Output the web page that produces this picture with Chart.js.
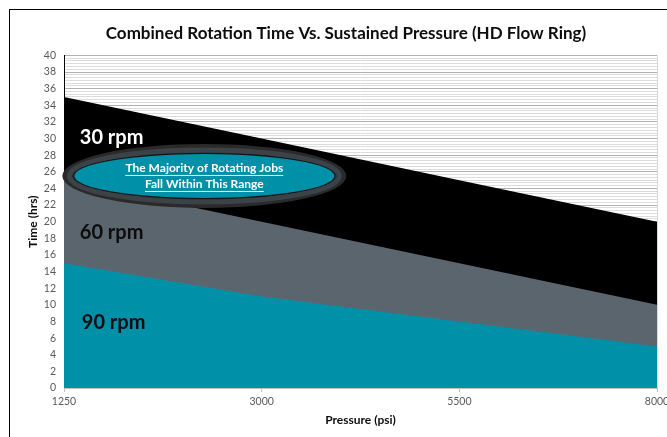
<!DOCTYPE html>
<html>
<head>
<meta charset="utf-8">
<script src="https://cdn.jsdelivr.net/npm/chart.js@4/dist/chart.umd.min.js"></script>
<style>
  body { margin: 0; background: #fff; }
  #wrap { position: relative; width: 667px; height: 437px; overflow: hidden; }
  #frame { position: absolute; left: 9px; top: 9px; width: 700px; height: 500px; border: 1px solid #000; }
  #chart { position: absolute; left: 0; top: 0; }
</style>
</head>
<body>
<div id="wrap">
  <div id="frame"></div>
  <canvas id="chart" width="667" height="437"></canvas>
</div>
<script>
// data
const pressures = ['1250', '3000', '5500', '8000'];
const time90rpm = [15, 11, 8, 5];
const time60rpm = [25, 20, 15, 10];
const time30rpm = [35, 30, 25, 20];
const yMax = 40;
const yStep = 2;

const teal = '#0090a8';
const slate = '#5b656e';

// in-plot text, placed in data units
const bandLabels = [
    { text: '30 rpm', x: 0.08, y: 30.1, color: '#fff' },
    { text: '60 rpm', x: 0.08, y: 18.7, color: '#0d0d0d' },
    { text: '90 rpm', x: 0.09, y: 7.9, color: '#0d0d0d' }
];
const callout = { x: 0.71, y: 25.5, lines: ['The Majority of Rotating Jobs', 'Fall Within This Range'] };

Chart.defaults.font.family = 'Lato, "DejaVu Sans", sans-serif';

const annotations = {
    id: 'annotations',
    afterDatasetsDraw(chart) {
        const ctx = chart.ctx;
        const xs = chart.scales.x;
        const ys = chart.scales.y;
        ctx.save();
        ctx.font = 'bold 20px Lato';
        ctx.textAlign = 'left';
        ctx.textBaseline = 'middle';
        bandLabels.forEach(l => {
            ctx.fillStyle = l.color;
            ctx.fillText(l.text, xs.getPixelForValue(l.x), ys.getPixelForValue(l.y));
        });

        const cx = xs.getPixelForValue(callout.x);
        const cy = ys.getPixelForValue(callout.y);
        ctx.beginPath();
        ctx.ellipse(cx, cy, 142, 32, 0, 0, Math.PI * 2);
        ctx.fillStyle = '#2a2a2a';
        ctx.fill();
        ctx.beginPath();
        ctx.ellipse(cx, cy, 135, 26, 0, 0, Math.PI * 2);
        ctx.strokeStyle = '#3c4348';
        ctx.lineWidth = 5;
        ctx.stroke();
        ctx.beginPath();
        ctx.ellipse(cx, cy, 130, 22, 0, 0, Math.PI * 2);
        ctx.strokeStyle = '#151515';
        ctx.lineWidth = 2;
        ctx.stroke();
        ctx.fillStyle = teal;
        ctx.fill();

        ctx.font = 'bold 12px Lato';
        ctx.textAlign = 'center';
        ctx.fillStyle = '#fff';
        ctx.strokeStyle = '#fff';
        ctx.lineWidth = 1;
        callout.lines.forEach((t, i) => {
            const ty = cy - 8 + i * 16;
            ctx.fillText(t, cx, ty);
            const w = ctx.measureText(t).width;
            ctx.beginPath();
            ctx.moveTo(cx - w / 2, ty + 7.5);
            ctx.lineTo(cx + w / 2, ty + 7.5);
            ctx.stroke();
        });
        ctx.restore();
    }
};

new Chart(document.getElementById('chart'), {
    type: 'line',
    data: {
        labels: pressures,
        datasets: [
            { label: '90 rpm', data: time90rpm, backgroundColor: teal, fill: 'origin', yAxisID: 'y' },
            { label: '60 rpm', data: time60rpm, backgroundColor: slate, fill: 'origin', yAxisID: 'y' },
            { label: '30 rpm', data: time30rpm, backgroundColor: '#000', fill: 'origin', yAxisID: 'y' }
        ]
    },
    options: {
        responsive: false,
        animation: false,
        layout: { padding: { left: 25, right: 0, top: 0, bottom: 0 } },
        elements: {
            line: { borderWidth: 0, tension: 0 },
            point: { radius: 0 }
        },
        plugins: {
            legend: { display: false },
            tooltip: { enabled: false },
            title: {
                display: true,
                text: 'Combined Rotation Time Vs. Sustained Pressure (HD Flow Ring)',
                color: '#0d0d0d',
                font: { size: 17, weight: 'bold' },
                padding: { top: 23, bottom: 12 }
            }
        },
        scales: {
            yMinor: {
                position: 'left',
                min: 0,
                max: 120,
                ticks: { display: false, stepSize: 1, autoSkip: false },
                grid: {
                    drawTicks: false,
                    color: c => (c.tick.value % 6 === 0 ? 'rgba(0,0,0,0)' : '#dcdcdc')
                },
                border: { display: false },
                afterFit: s => { s.width = 0; s.paddingTop = 0; s.paddingBottom = 0; }
            },
            y: {
                position: 'left',
                min: 0,
                max: yMax,
                ticks: { stepSize: yStep, padding: 8, color: '#595959', font: { size: 10.5 } },
                grid: { drawTicks: false, color: '#b0b0b0' },
                border: { color: '#000' },
                title: {
                    display: true,
                    text: 'Time (hrs)',
                    color: '#0d0d0d',
                    font: { size: 12, weight: 'bold' },
                    padding: { top: 1, bottom: 0 }
                },
                afterFit: s => { s.width = 39; s.paddingTop = 0; s.paddingBottom = 0; }
            },
            x: {
                offset: false,
                ticks: { padding: 3, color: '#595959', font: { size: 10.5 }, maxRotation: 0 },
                grid: {
                    tickLength: 4,
                    tickColor: '#bfbfbf',
                    color: c => (c.index === pressures.length - 1 ? '#d9d9d9' : 'rgba(0,0,0,0)')
                },
                border: { color: '#bfbfbf' },
                title: {
                    display: true,
                    text: 'Pressure (psi)',
                    color: '#0d0d0d',
                    font: { size: 12, weight: 'bold' },
                    padding: { top: 0, bottom: 10 }
                },
                afterFit: s => { s.height = 49; s.paddingLeft = 0; s.paddingRight = 10; }
            }
        }
    },
    plugins: [annotations]
});
</script>
</body>
</html>
